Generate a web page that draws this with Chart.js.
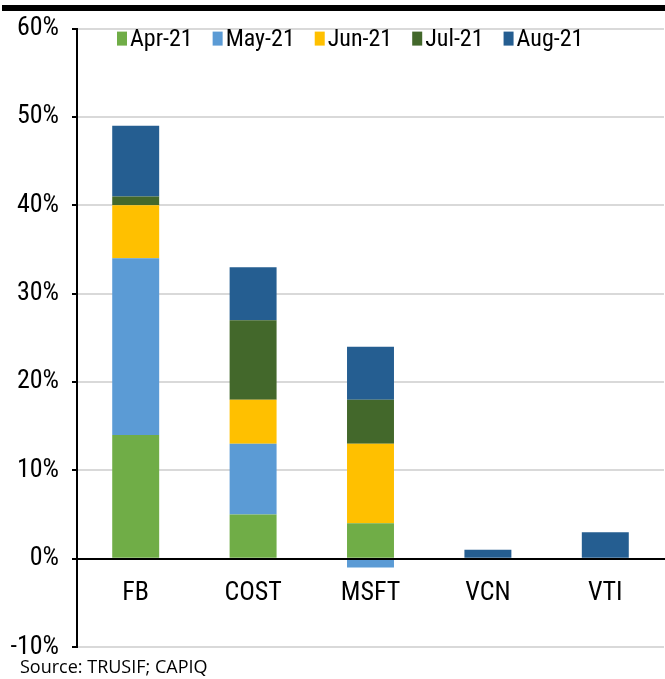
<!DOCTYPE html>
<html><head><meta charset="utf-8">
<script src="https://cdn.jsdelivr.net/npm/chart.js@4.4.1/dist/chart.umd.min.js"></script>
<style>
html,body{margin:0;padding:0;background:#fff;}
#wrap{position:relative;width:665px;height:679px;overflow:hidden;}
#topbar{position:absolute;left:2px;top:5px;width:663px;height:6px;background:#000;}
#src{position:absolute;left:20px;top:655px;font-family:'Open Sans',sans-serif;font-size:18px;line-height:23px;color:#000;white-space:nowrap;}
canvas{position:absolute;left:0;top:0;}
</style></head>
<body>
<div id="wrap">
<canvas id="c" width="665" height="679"></canvas>
<div id="topbar"></div>
<div id="src">Source: TRUSIF; CAPIQ</div>
</div>
<script>
const categories = ['FB', 'COST', 'MSFT', 'VCN', 'VTI'];
const seriesNames = ['Apr-21', 'May-21', 'Jun-21', 'Jul-21', 'Aug-21'];
const apr21 = [14, 5, 4, 0, 0];
const may21 = [20, 8, -1, 0, 0];
const jun21 = [6, 5, 9, 0, 0];
const jul21 = [1, 9, 5, 0, 0];
const aug21 = [8, 6, 6, 1, 3];
const yTicks = [-10, 0, 10, 20, 30, 40, 50, 60];

const colors = ['#70AD47', '#5B9BD5', '#FFC000', '#43682B', '#255E91'];
const seriesValues = [apr21, may21, jun21, jul21, aug21];
const FONT = "'Roboto Condensed', 'Liberation Sans Narrow', 'Arial Narrow', sans-serif";

// Legend drawn inside the plot area, from the chart's own datasets
const inlineLegend = {
  id: 'inlineLegend',
  afterDraw(chart) {
    const {ctx, chartArea} = chart;
    ctx.save();
    ctx.font = `24px ${FONT}`;
    ctx.textBaseline = 'alphabetic';
    ctx.textAlign = 'left';
    let x = chartArea.left + 40;
    const top = chartArea.top + 3;
    chart.data.datasets.forEach(ds => {
      ctx.fillStyle = ds.backgroundColor;
      ctx.fillRect(x, top, 10, 14);
      ctx.fillStyle = '#000';
      ctx.fillText(ds.label, x + 13, top + 14);
      x += 13 + ctx.measureText(ds.label).width + 20;
    });
    ctx.restore();
  }
};

new Chart(document.getElementById('c'), {
  type: 'bar',
  data: {
    labels: categories,
    datasets: seriesNames.map((n, i) => ({
      label: n,
      data: seriesValues[i],
      backgroundColor: colors[i],
      borderWidth: 0,
      barPercentage: 0.4,
      categoryPercentage: 1.0
    }))
  },
  options: {
    responsive: false,
    animation: false,
    layout: { padding: { left: 0, right: 1, top: 25, bottom: 32 } },
    plugins: {
      tooltip: { enabled: false },
      legend: { display: false }
    },
    scales: {
      x: {
        stacked: true,
        position: { y: 0 },
        grid: { display: false, drawTicks: false },
        border: { display: true, color: '#000', width: 2, z: 1 },
        ticks: { color: '#000', font: { family: FONT, size: 26 }, padding: 19 }
      },
      y: {
        stacked: true,
        min: -10,
        max: 60,
        afterFit(scale) { scale.width = 77; },
        afterBuildTicks(scale) { scale.ticks = yTicks.map(v => ({ value: v })); },
        grid: { color: '#d9d9d9', lineWidth: 2, tickColor: '#000', tickLength: 5, drawTicks: true },
        border: { display: true, color: '#000', width: 2 },
        ticks: {
          color: '#000',
          padding: 13,
          font: { family: FONT, size: 26 },
          callback: v => v + '%'
        }
      }
    }
  },
  plugins: [inlineLegend]
});
</script>
</body></html>
